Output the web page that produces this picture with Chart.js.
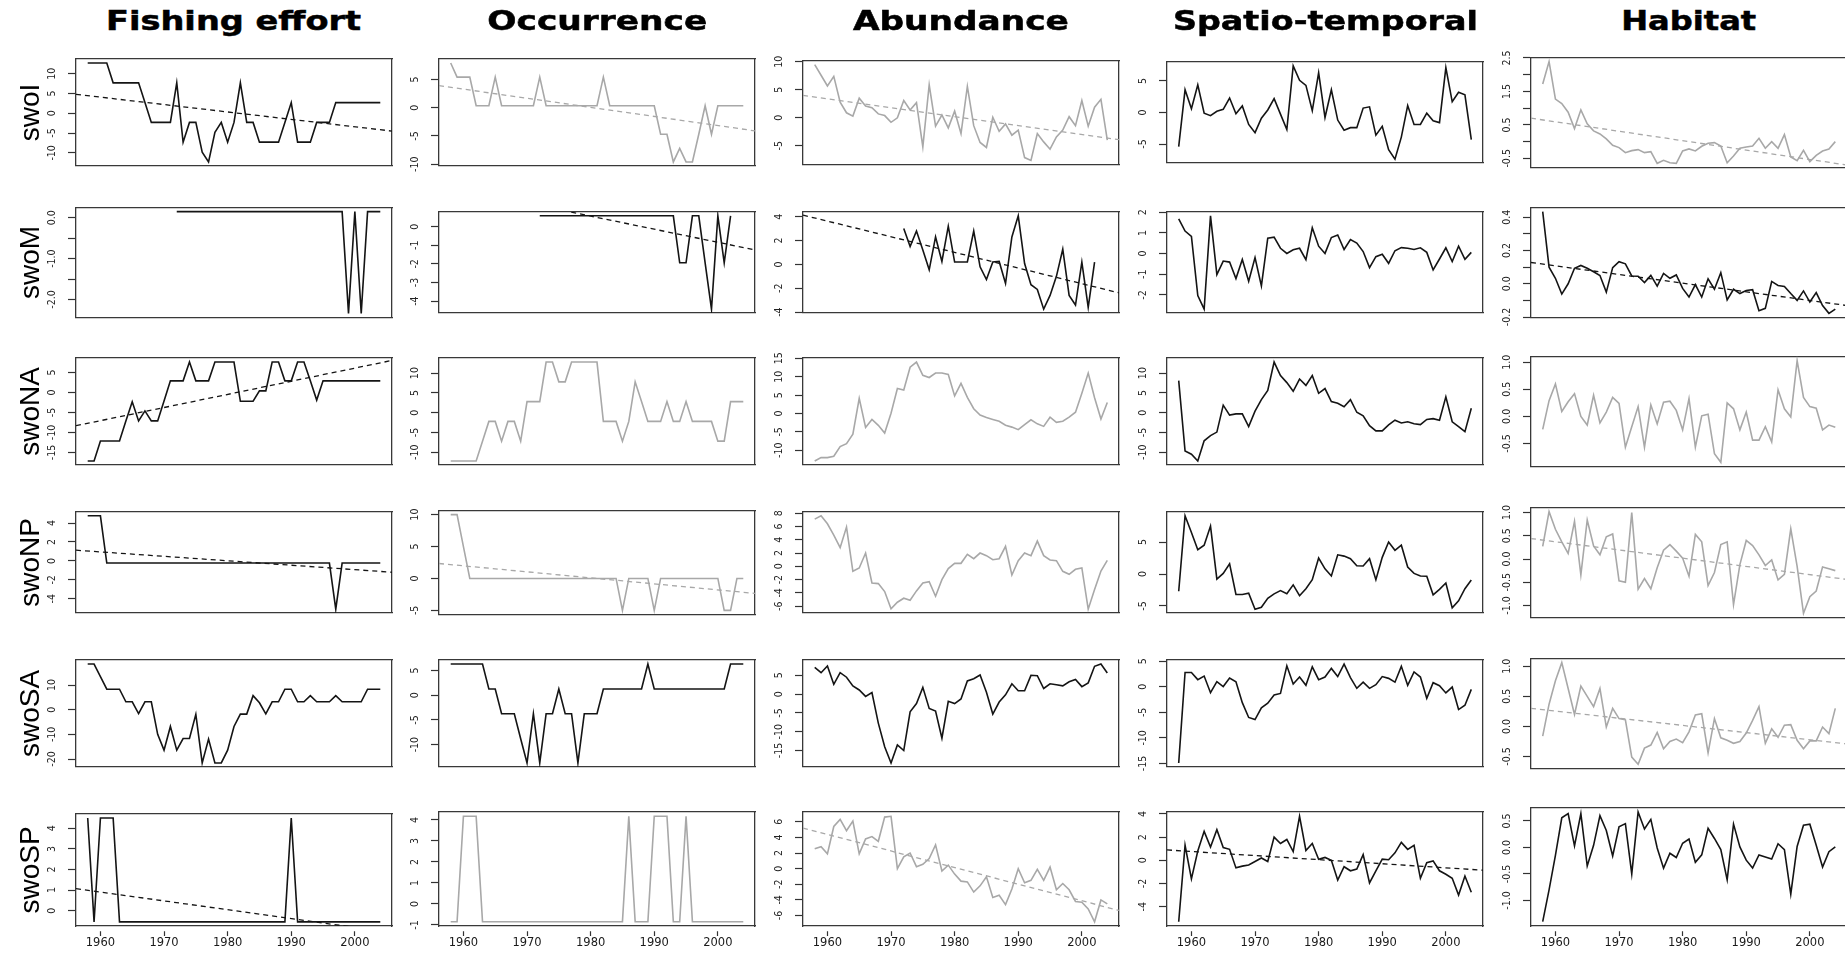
<!DOCTYPE html>
<html>
<head>
<meta charset="utf-8">
<script src="https://cdn.jsdelivr.net/npm/chart.js@4.4.0/dist/chart.umd.min.js"></script>
<style>
html,body{margin:0;padding:0;background:#fff;width:1845px;height:953px;overflow:hidden;position:relative}
canvas{position:absolute}
.coltitle{position:absolute;top:7px;font-family:'DejaVu Sans',sans-serif;font-weight:bold;font-size:27px;line-height:27px;white-space:nowrap;color:#000;-webkit-text-stroke:0.5px #000;transform-origin:50% 50%}
</style>
</head>
<body>
<script>
// ---------------- data ----------------
const YEARS = [1958,1959,1960,1961,1962,1963,1964,1965,1966,1967,1968,1969,1970,1971,1972,1973,1974,1975,1976,1977,1978,1979,1980,1981,1982,1983,1984,1985,1986,1987,1988,1989,1990,1991,1992,1993,1994,1995,1996,1997,1998,1999,2000,2001,2002,2003,2004];
const COLUMNS = ['Fishing effort','Occurrence','Abundance','Spatio-temporal','Habitat'];
const ROWS = ['swoI','swoM','swoNA','swoNP','swoSA','swoSP'];
const X_TICKS = [1960,1970,1980,1990,2000];

// Fishing effort
const effort_swoI = [12.7,12.7,12.7,12.7,7.7,7.7,7.7,7.7,7.7,2.7,-2.3,-2.3,-2.3,-2.3,7.7,-7.3,-2.3,-2.3,-9.8,-12.3,-4.8,-2.3,-7.3,-2.3,7.7,-2.3,-2.3,-7.3,-7.3,-7.3,-7.3,-2.3,2.7,-7.3,-7.3,-7.3,-2.3,-2.3,-2.3,2.7,2.7,2.7,2.7,2.7,2.7,2.7,2.7];
const effort_swoM = [null,null,null,null,null,null,null,null,null,null,null,null,null,null,0.15,0.15,0.15,0.15,0.15,0.15,0.15,0.15,0.15,0.15,0.15,0.15,0.15,0.15,0.15,0.15,0.15,0.15,0.15,0.15,0.15,0.15,0.15,0.15,0.15,0.15,0.15,-2.34,0.15,-2.34,0.15,0.15,0.15];
const effort_swoNA = [-17.1,-17.1,-12.1,-12.1,-12.1,-12.1,-7.1,-2.3,-7.1,-4.6,-7.1,-7.1,-2.1,2.9,2.9,2.9,7.6,2.9,2.9,2.9,7.6,7.6,7.6,7.6,-2.2,-2.2,-2.2,0.4,0.4,7.6,7.6,2.9,2.9,7.6,7.6,2.9,-1.9,2.9,2.9,2.9,2.9,2.9,2.9,2.9,2.9,2.9,2.9];
const effort_swoNP = [4.76,4.76,4.76,-0.23,-0.23,-0.23,-0.23,-0.23,-0.23,-0.23,-0.23,-0.23,-0.23,-0.23,-0.23,-0.23,-0.23,-0.23,-0.23,-0.23,-0.23,-0.23,-0.23,-0.23,-0.23,-0.23,-0.23,-0.23,-0.23,-0.23,-0.23,-0.23,-0.23,-0.23,-0.23,-0.23,-0.23,-0.23,-0.23,-5.1,-0.23,-0.23,-0.23,-0.23,-0.23,-0.23,-0.23];
const effort_swoSA = [18.5,18.5,13.4,8.3,8.3,8.3,3.2,3.2,-1.6,3.2,3.2,-10.0,-16.4,-6.8,-16.4,-11.7,-11.7,-1.9,-21.6,-11.9,-21.6,-21.6,-16.4,-6.8,-1.8,-1.8,5.7,2.8,-1.7,3.2,3.2,8.3,8.3,3.2,3.2,5.7,3.2,3.2,3.2,5.7,3.2,3.2,3.2,3.2,8.3,8.3,8.3];
const effort_swoSP = [4.5,-0.54,4.5,4.5,4.5,-0.54,-0.54,-0.54,-0.54,-0.54,-0.54,-0.54,-0.54,-0.54,-0.54,-0.54,-0.54,-0.54,-0.54,-0.54,-0.54,-0.54,-0.54,-0.54,-0.54,-0.54,-0.54,-0.54,-0.54,-0.54,-0.54,-0.54,4.5,-0.54,-0.54,-0.54,-0.54,-0.54,-0.54,-0.54,-0.54,-0.54,-0.54,-0.54,-0.54,-0.54,-0.54];

// Occurrence
const occur_swoI = [7.9,5.4,5.4,5.4,0.35,0.35,0.35,5.4,0.35,0.35,0.35,0.35,0.35,0.35,5.4,0.35,0.35,0.35,0.35,0.35,0.35,0.35,0.35,0.35,5.4,0.35,0.35,0.35,0.35,0.35,0.35,0.35,0.35,-4.7,-4.7,-9.6,-7.2,-9.6,-9.6,-4.7,0.35,-4.7,0.35,0.35,0.35,0.35,0.35];
const occur_swoM = [null,null,null,null,null,null,null,null,null,null,null,null,null,null,0.58,0.58,0.58,0.58,0.58,0.58,0.58,0.58,0.58,0.58,0.58,0.58,0.58,0.58,0.58,0.58,0.58,0.58,0.58,0.58,0.58,0.58,-1.94,-1.94,0.58,0.58,-1.94,-4.43,0.58,-1.94,0.58,null,null];
const occur_swoNA = [-12.2,-12.2,-12.2,-12.2,-12.2,-7.2,-2.2,-2.2,-7.2,-2.2,-2.2,-7.2,2.8,2.8,2.8,12.8,12.8,7.8,7.8,12.8,12.8,12.8,12.8,12.8,-2.2,-2.2,-2.2,-7.2,-2.2,7.8,2.8,-2.2,-2.2,-2.2,2.8,-2.2,-2.2,2.8,-2.2,-2.2,-2.2,-2.2,-7.2,-7.2,2.8,2.8,2.8];
const occur_swoNP = [10,10,5,0,0,0,0,0,0,0,0,0,0,0,0,0,0,0,0,0,0,0,0,0,0,0,0,-5,0,0,0,0,-5,0,0,0,0,0,0,0,0,0,0,-5,-5,0,0];
const occur_swoSA = [6.3,6.3,6.3,6.3,6.3,6.3,1.25,1.25,-3.75,-3.75,-3.75,-8.8,-13.7,-3.75,-13.7,-3.75,-3.75,1.25,-3.75,-3.75,-13.7,-3.75,-3.75,-3.75,1.25,1.25,1.25,1.25,1.25,1.25,1.25,6.3,1.25,1.25,1.25,1.25,1.25,1.25,1.25,1.25,1.25,1.25,1.25,1.25,6.3,6.3,6.3];
const occur_swoSP = [-0.85,-0.85,4.17,4.17,4.17,-0.85,-0.85,-0.85,-0.85,-0.85,-0.85,-0.85,-0.85,-0.85,-0.85,-0.85,-0.85,-0.85,-0.85,-0.85,-0.85,-0.85,-0.85,-0.85,-0.85,-0.85,-0.85,-0.85,4.17,-0.85,-0.85,-0.85,4.17,4.17,4.17,-0.85,-0.85,4.17,-0.85,-0.85,-0.85,-0.85,-0.85,-0.85,-0.85,-0.85,-0.85];

// Abundance
const abund_swoI = [9.5,7.6,5.7,7.4,2.8,0.9,0.3,3.5,2.1,1.8,0.7,0.4,-0.8,0,3.1,1.4,2.7,-5.2,5.9,-1.5,0.5,-1.8,1.2,-2.8,5.6,-1.4,-4.4,-5.3,0.1,-2.4,-1.1,-3.1,-2.2,-7.1,-7.6,-2.8,-4.3,-5.6,-3.4,-2.2,0.2,-1.4,3.1,-1.5,1.9,3.3,-4.0];
const abund_swoM = [null,null,null,null,null,null,null,null,null,null,null,null,null,null,3.0,1.5,2.8,1.2,-0.45,2.3,0.25,3.2,0.2,0.2,0.2,2.8,-0.2,-1.27,0.2,0.25,-1.6,2.3,4.07,0.07,-1.7,-2.1,-3.75,-2.6,-1.0,1.27,-2.6,-3.4,0.2,-3.6,0.2,null,null];
const abund_swoNA = [-12.9,-12.0,-12.0,-11.6,-9.0,-8.2,-5.6,4.1,-3.8,-1.6,-3.2,-5.3,0.1,6.8,6.4,12.6,14.0,10.4,9.8,11.0,11.0,10.6,4.8,8.2,4.4,1.3,-0.4,-1.1,-1.6,-2.1,-3.2,-3.7,-4.4,-3.0,-1.7,-2.8,-3.5,-1.0,-2.4,-2.1,-1.0,0.35,5.5,11.0,4.3,-1.5,3.0];
const abund_swoNP = [7.1,7.6,6.4,4.7,2.8,5.9,-0.75,-0.25,2.0,-2.5,-2.6,-3.8,-6.4,-5.4,-4.8,-5.1,-3.7,-2.5,-2.3,-4.5,-2.0,-0.35,0.45,0.45,1.8,1.15,2.0,1.6,1.0,1.15,3.0,-1.3,0.85,2.0,1.6,3.8,1.6,0.95,0.85,-0.75,-1.2,-0.45,-0.25,-6.45,-3.5,-0.7,0.9];
const abund_swoSA = [7.1,5.7,7.5,2.6,5.7,4.5,2.2,1.1,-0.6,0.4,-7.7,-14,-18.3,-13.5,-15,-4.7,-2.5,1.8,-3.8,-4.5,-11.7,-1.9,-2.5,-1.3,3.5,4.1,5.1,0.5,-5.3,-2.1,-0.2,2.75,0.9,0.9,5.0,4.9,1.5,2.75,2.5,2.2,3.3,3.9,2.0,3.0,7.4,8.0,5.6];
const abund_swoSP = [2.55,2.8,1.9,5.4,6.3,4.85,6.1,1.9,3.8,4.1,3.5,6.6,6.7,0,1.5,2.0,0.25,0.55,1.3,3.05,-0.3,0.45,-0.7,-1.6,-1.7,-3.0,-2.2,-1.05,-3.7,-3.4,-4.6,-2.6,0,-1.8,-1.5,-0.1,-1.5,0.2,-2.7,-1.9,-2.7,-4.2,-4.3,-5.15,-6.8,-4.0,-4.5];

// Spatio-temporal
const spat_swoI = [-5.4,3.6,0.6,4.4,-0.1,-0.5,0.2,0.5,2.3,-0.2,1.05,-1.9,-3.2,-0.9,0.4,2.2,-0.25,-2.7,7.4,5.1,4.3,0.3,6.3,-0.8,3.6,-1.2,-2.8,-2.4,-2.4,0.7,0.9,-3.6,-2.2,-5.9,-7.4,-3.9,1.1,-1.9,-1.9,-0.1,-1.3,-1.6,7.1,1.7,3.2,2.8,-4.3];
const spat_swoM = [1.68,1.09,0.83,-2.03,-2.69,1.83,-1.02,-0.36,-0.41,-1.21,-0.28,-1.34,-0.19,-1.56,0.75,0.8,0.26,0.01,0.19,0.26,-0.29,1.25,0.36,0.01,0.78,0.9,0.2,0.68,0.51,0.1,-0.68,-0.15,-0.03,-0.47,0.14,0.29,0.26,0.2,0.28,0.06,-0.79,-0.26,0.28,-0.38,0.36,-0.28,0.06];
const spat_swoNA = [8.1,-9.7,-10.5,-12.2,-7.1,-5.8,-4.9,1.9,-0.6,-0.3,-0.3,-3.5,0.4,3.3,5.6,12.8,9.4,7.6,5.4,8.5,6.9,9.4,4.9,6.1,2.8,2.4,1.5,3.3,0.1,-0.8,-3.3,-4.6,-4.6,-3.1,-1.9,-2.6,-2.3,-2.8,-3.0,-1.7,-1.5,-1.9,4.0,-2.3,-3.5,-4.8,1.1];
const spat_swoNP = [-2.7,9.1,6.5,3.8,4.5,7.5,-0.8,0.1,1.6,-3.2,-3.2,-3.0,-5.5,-5.2,-3.8,-3.1,-2.6,-3.1,-1.7,-3.4,-2.3,-0.9,2.5,0.8,-0.3,3.0,2.8,2.4,1.3,1.25,2.4,-0.9,2.6,5.0,3.7,4.5,1.1,0.1,-0.3,-0.35,-3.25,-2.4,-1.4,-5.3,-4.2,-2.3,-0.95];
const spat_swoSA = [-14.9,2.8,2.8,1.4,2.1,-1.15,1.0,0.05,1.7,1.0,-3.1,-6.0,-6.4,-4.1,-3.2,-1.6,-1.3,4.1,0.55,1.9,0.3,3.9,1.4,1.9,3.6,2.0,4.45,1.8,-0.3,0.9,-0.3,0.4,2.0,1.65,0.9,4.0,0.3,2.9,1.9,-2.25,0.8,0.2,-1.2,-0.05,-4.45,-3.6,-0.5];
const spat_swoSP = [-5.3,1.3,-1.6,0.8,2.5,1.15,2.65,1.1,0.95,-0.65,-0.5,-0.4,-0.1,0.2,-0.1,2.0,1.45,1.8,0.75,3.8,0.85,1.45,0.1,0.25,0,-1.7,-0.55,-0.9,-0.75,0.5,-1.95,-0.9,0.1,0.05,0.65,1.55,0.95,1.3,-1.55,-0.2,-0.05,-0.9,-1.2,-1.55,-3.0,-1.35,-2.75];

// Habitat
const hab_swoI = [1.72,2.39,1.27,1.14,0.88,0.39,0.95,0.53,0.32,0.23,0.08,-0.11,-0.18,-0.33,-0.27,-0.24,-0.33,-0.3,-0.65,-0.56,-0.63,-0.65,-0.28,-0.22,-0.28,-0.14,-0.05,-0.03,-0.13,-0.63,-0.43,-0.2,-0.16,-0.13,0.1,-0.2,0.0,-0.2,0.21,-0.46,-0.57,-0.26,-0.6,-0.41,-0.28,-0.22,0.0];
const hab_swoM = [0.434,0.10,0.033,-0.062,0.0,0.093,0.11,0.093,0.072,0.05,-0.05,0.097,0.133,0.12,0.047,0.045,0.007,0.05,-0.014,0.062,0.033,0.053,-0.028,-0.08,-0.005,-0.08,0.03,-0.033,0.067,-0.097,-0.033,-0.059,-0.041,-0.036,-0.162,-0.148,0.014,-0.01,-0.016,-0.059,-0.1,-0.043,-0.11,-0.053,-0.131,-0.178,-0.153];
const hab_swoNA = [-0.24,0.29,0.6,0.09,0.27,0.42,0.0,-0.16,0.39,-0.12,0.08,0.35,0.24,-0.57,-0.19,0.18,-0.57,0.21,-0.14,0.26,0.28,0.11,-0.25,0.33,-0.57,0.01,0.04,-0.69,-0.85,0.25,0.14,-0.25,0.08,-0.44,-0.44,-0.19,-0.47,0.49,0.14,-0.01,1.03,0.35,0.18,0.15,-0.25,-0.16,-0.2];
const hab_swoNP = [0.27,1.02,0.64,0.37,0.12,0.81,-0.34,0.84,0.28,0.09,0.48,0.54,-0.47,-0.5,1.0,-0.65,-0.42,-0.64,-0.19,0.19,0.31,0.17,0.02,-0.37,0.53,0.37,-0.57,-0.29,0.31,0.37,-0.98,-0.12,0.4,0.29,0.09,-0.14,-0.02,-0.45,-0.33,0.65,-0.16,-1.17,-0.81,-0.69,-0.17,-0.21,-0.25];
const hab_swoSA = [-0.16,0.37,0.76,1.06,0.63,0.2,0.67,0.5,0.33,0.63,-0.01,0.3,0.13,0.11,-0.51,-0.63,-0.36,-0.31,-0.1,-0.37,-0.25,-0.21,-0.27,-0.09,0.19,0.21,-0.44,0.13,-0.19,-0.23,-0.28,-0.25,-0.11,0.1,0.33,-0.28,-0.04,-0.18,0.02,0.03,-0.23,-0.37,-0.24,-0.24,-0.01,-0.12,0.3];
const hab_swoSP = [-1.4,-0.8,-0.15,0.56,0.64,0.03,0.64,-0.35,0.04,0.6,0.32,-0.16,0.39,0.45,-0.5,0.67,0.35,0.53,-0.01,-0.39,-0.11,-0.19,0.08,0.16,-0.28,-0.14,0.36,0.17,-0.04,-0.61,0.44,0.01,-0.24,-0.39,-0.14,-0.18,-0.22,0.07,-0.04,-0.88,0.02,0.42,0.44,0.04,-0.37,-0.08,0.01];

// Linear trends (value at left and right x-axis limits)
const effort_swoI_trend = [4.8,-4.5];
const effort_swoNA_trend = [-8.3,8.0];
const effort_swoNP_trend = [1.13,-1.2];
const effort_swoSP_trend = [1.07,-1.06];
const occur_swoI_trend = [3.9,-4.1];
const occur_swoM_trend = [2.24,-1.25];
const occur_swoNP_trend = [2.34,-2.34];
const abund_swoI_trend = [4.0,-3.9];
const abund_swoM_trend = [4.13,-2.38];
const abund_swoSP_trend = [5.2,-5.35];
const spat_swoSP_trend = [0.9,-0.85];
const hab_swoI_trend = [0.7,-0.7];
const hab_swoM_trend = [0.128,-0.131];
const hab_swoNP_trend = [0.44,-0.44];
const hab_swoSA_trend = [0.3,-0.29];

// Y tick values and labels
const effort_swoI_ticks = [10,5,0,-5,-10];
const effort_swoM_ticks = [0,-0.5,-1,-1.5,-2];
const effort_swoM_labels = ['0.0','','-1.0','','-2.0'];
const effort_swoNA_ticks = [5,0,-5,-10,-15];
const effort_swoNP_ticks = [4,2,0,-2,-4];
const effort_swoSA_ticks = [10,0,-10,-20];
const effort_swoSP_ticks = [4,3,2,1,0];
const occur_swoI_ticks = [5,0,-5,-10];
const occur_swoM_ticks = [0,-1,-2,-3,-4];
const occur_swoNA_ticks = [10,5,0,-5,-10];
const occur_swoNP_ticks = [10,5,0,-5];
const occur_swoSA_ticks = [5,0,-5,-10];
const occur_swoSP_ticks = [4,3,2,1,0,-1];
const abund_swoI_ticks = [10,5,0,-5];
const abund_swoM_ticks = [4,2,0,-2,-4];
const abund_swoNA_ticks = [15,10,5,0,-5,-10];
const abund_swoNP_ticks = [8,6,4,2,0,-2,-4,-6];
const abund_swoSA_ticks = [5,0,-5,-10,-15];
const abund_swoSP_ticks = [6,4,2,0,-2,-4,-6];
const spat_swoI_ticks = [5,0,-5];
const spat_swoM_ticks = [2,1,0,-1,-2];
const spat_swoNA_ticks = [10,5,0,-5,-10];
const spat_swoNP_ticks = [5,0,-5];
const spat_swoSA_ticks = [5,0,-5,-10,-15];
const spat_swoSP_ticks = [4,2,0,-2,-4];
const hab_swoI_ticks = [2.5,2,1.5,1,0.5,0,-0.5];
const hab_swoI_labels = ['2.5','','1.5','','0.5','','-0.5'];
const hab_swoM_ticks = [0.4,0.3,0.2,0.1,0,-0.1,-0.2];
const hab_swoM_labels = ['0.4','','0.2','','0.0','','-0.2'];
const hab_swoNA_ticks = [1,0.5,0,-0.5];
const hab_swoNA_labels = ['1.0','0.5','0.0','-0.5'];
const hab_swoNP_ticks = [1,0.5,0,-0.5,-1];
const hab_swoNP_labels = ['1.0','0.5','0.0','-0.5','-1.0'];
const hab_swoSA_ticks = [1,0.5,0,-0.5];
const hab_swoSA_labels = ['1.0','0.5','0.0','-0.5'];
const hab_swoSP_ticks = [0.5,0,-0.5,-1];
const hab_swoSP_labels = ['0.5','0.0','-0.5','-1.0'];

// ---------------- styling / layout ----------------
const BLACK = '#141414', GRAY = '#a8a8a8';
const BOX_COLOR = '#383838', BOX_LW = 1.3;
const BOX_LEFT = [76, 439, 803, 1167, 1531];
const BOX_TOP = [49, 199, 348, 499, 650, 799];
const BOX_W = 316, BOX_H = 127;
const AXIS_W = 70, PAD = 4, XAXIS_H = 32;
const TITLE_W = [255, 220, 216, 305, 135];
const YTICK_FONT = {family: "'Liberation Sans Narrow','DejaVu Sans Condensed','Liberation Sans',sans-serif", size: 10.5};
const XTICK_FONT = {family: "'DejaVu Sans',sans-serif", size: 11.5};
const ROWLABEL_FONT = {family: "'Liberation Sans',Arial,sans-serif", size: 28, lineHeight: 1};

const P = (s, col, ticks, trend, labels) => ({s, col, ticks, trend, labels});
const PANELS = [
  [P(effort_swoI,BLACK,effort_swoI_ticks,effort_swoI_trend), P(occur_swoI,GRAY,occur_swoI_ticks,occur_swoI_trend), P(abund_swoI,GRAY,abund_swoI_ticks,abund_swoI_trend), P(spat_swoI,BLACK,spat_swoI_ticks), P(hab_swoI,GRAY,hab_swoI_ticks,hab_swoI_trend,hab_swoI_labels)],
  [P(effort_swoM,BLACK,effort_swoM_ticks,null,effort_swoM_labels), P(occur_swoM,BLACK,occur_swoM_ticks,occur_swoM_trend), P(abund_swoM,BLACK,abund_swoM_ticks,abund_swoM_trend), P(spat_swoM,BLACK,spat_swoM_ticks), P(hab_swoM,BLACK,hab_swoM_ticks,hab_swoM_trend,hab_swoM_labels)],
  [P(effort_swoNA,BLACK,effort_swoNA_ticks,effort_swoNA_trend), P(occur_swoNA,GRAY,occur_swoNA_ticks), P(abund_swoNA,GRAY,abund_swoNA_ticks), P(spat_swoNA,BLACK,spat_swoNA_ticks), P(hab_swoNA,GRAY,hab_swoNA_ticks,null,hab_swoNA_labels)],
  [P(effort_swoNP,BLACK,effort_swoNP_ticks,effort_swoNP_trend), P(occur_swoNP,GRAY,occur_swoNP_ticks,occur_swoNP_trend), P(abund_swoNP,GRAY,abund_swoNP_ticks), P(spat_swoNP,BLACK,spat_swoNP_ticks), P(hab_swoNP,GRAY,hab_swoNP_ticks,hab_swoNP_trend,hab_swoNP_labels)],
  [P(effort_swoSA,BLACK,effort_swoSA_ticks), P(occur_swoSA,BLACK,occur_swoSA_ticks), P(abund_swoSA,BLACK,abund_swoSA_ticks), P(spat_swoSA,BLACK,spat_swoSA_ticks), P(hab_swoSA,GRAY,hab_swoSA_ticks,hab_swoSA_trend,hab_swoSA_labels)],
  [P(effort_swoSP,BLACK,effort_swoSP_ticks,effort_swoSP_trend), P(occur_swoSP,GRAY,occur_swoSP_ticks), P(abund_swoSP,GRAY,abund_swoSP_ticks,abund_swoSP_trend), P(spat_swoSP,BLACK,spat_swoSP_ticks,spat_swoSP_trend), P(hab_swoSP,BLACK,hab_swoSP_ticks,null,hab_swoSP_labels)]
];

// R-style axis limits (data range extended by 4%)
const yrMin = Math.min(...YEARS), yrMax = Math.max(...YEARS);
const X_MIN = yrMin - 0.04 * (yrMax - yrMin), X_MAX = yrMax + 0.04 * (yrMax - yrMin);

const mctx = document.createElement('canvas').getContext('2d');
function widestLabel(labels) {
  mctx.font = YTICK_FONT.size + 'px ' + YTICK_FONT.family;
  return Math.max(...labels.map(l => mctx.measureText(l).width));
}

function makeChart(r, c, p) {
  const vals = p.s.filter(v => v !== null);
  const lo = Math.min(...vals), hi = Math.max(...vals), ext = 0.04 * (hi - lo);
  const yMin = lo - ext, yMax = hi + ext;
  const labels = p.labels || p.ticks.map(v => String(v));
  const bottomRow = r === ROWS.length - 1;
  const w = AXIS_W + BOX_W + PAD;
  const h = PAD + BOX_H + (bottomRow ? XAXIS_H : PAD);
  const cv = document.createElement('canvas');
  cv.width = w; cv.height = h;
  cv.style.left = (BOX_LEFT[c] - AXIS_W) + 'px';
  cv.style.top = (BOX_TOP[r] - PAD) + 'px';
  cv.style.width = w + 'px'; cv.style.height = h + 'px';
  document.body.appendChild(cv);

  const datasets = [{
    data: YEARS.map((yr, i) => ({x: yr, y: p.s[i]})),
    borderColor: p.col, borderWidth: 1.6, pointRadius: 0, tension: 0, spanGaps: false,
    xAxisID: 'x', yAxisID: 'y'
  }];
  if (p.trend) {
    datasets.push({
      data: [{x: X_MIN, y: p.trend[0]}, {x: X_MAX, y: p.trend[1]}],
      borderColor: p.col, borderWidth: 1.3, borderDash: [5, 4], pointRadius: 0,
      xAxisID: 'x', yAxisID: 'y'
    });
  }
  const border = {display: true, color: BOX_COLOR, width: BOX_LW};
  const ypad = 15.5 - widestLabel(labels) / 2;

  new Chart(cv.getContext('2d'), {
    type: 'line',
    data: {datasets},
    options: {
      responsive: false, animation: false, devicePixelRatio: 1,
      layout: {padding: {top: PAD, right: PAD, left: 0, bottom: bottomRow ? 0 : PAD}},
      plugins: {legend: {display: false}, tooltip: {enabled: false}},
      events: [],
      scales: {
        x: {
          type: 'linear', position: 'bottom', min: X_MIN, max: X_MAX,
          afterBuildTicks: a => { a.ticks = X_TICKS.map(v => ({value: v})); },
          afterFit: a => { a.height = bottomRow ? XAXIS_H : 0; },
          grid: {display: bottomRow, drawOnChartArea: false, drawTicks: bottomRow, tickLength: 10,
                 tickColor: '#333', tickWidth: 1.2, tickBorderDash: [0, 5, 5, 60]},
          border,
          ticks: {display: bottomRow, padding: 0, font: XTICK_FONT, color: '#1a1a1a',
                  maxRotation: 0, minRotation: 0, autoSkip: false, callback: v => String(v)}
        },
        xTop: {
          type: 'linear', position: 'top', min: X_MIN, max: X_MAX,
          grid: {display: false}, ticks: {display: false}, border,
          afterFit: a => { a.height = 0; }
        },
        y: {
          type: 'linear', position: 'left', min: yMin, max: yMax,
          afterBuildTicks: a => { a.ticks = p.ticks.map(v => ({value: v})); },
          afterFit: a => { a.width = AXIS_W; },
          grid: {display: true, drawOnChartArea: false, drawTicks: true, tickLength: 8,
                 tickColor: '#333', tickWidth: 1.2},
          border,
          ticks: {display: true, minRotation: 90, maxRotation: 90, crossAlign: 'center',
                  padding: ypad, font: YTICK_FONT, color: '#222', autoSkip: false,
                  callback: (v, i) => labels[i]},
          title: {display: c === 0, text: ROWS[r], color: '#000',
                  font: ROWLABEL_FONT, padding: {top: 11, bottom: 0}}
        },
        yRight: {
          type: 'linear', position: 'right', min: yMin, max: yMax,
          grid: {display: false}, ticks: {display: false}, border,
          afterFit: a => { a.width = 0; }
        }
      }
    }
  });
}

PANELS.forEach((row, r) => row.forEach((p, c) => makeChart(r, c, p)));

COLUMNS.forEach((t, c) => {
  const d = document.createElement('div');
  d.className = 'coltitle';
  d.textContent = t;
  document.body.appendChild(d);
  const w = d.getBoundingClientRect().width;
  d.style.left = (BOX_LEFT[c] + BOX_W / 2 - w / 2) + 'px';
  d.style.transform = 'scaleX(' + (TITLE_W[c] / w).toFixed(3) + ')';
});
</script>
</body>
</html>
